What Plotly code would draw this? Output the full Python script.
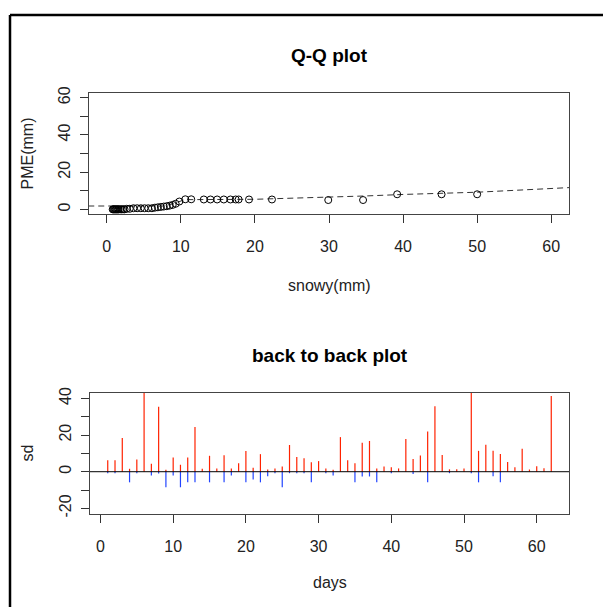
import plotly.graph_objects as go

W, H = 603, 607

# ---------------- data ----------------
# Q-Q plot quantiles (sorted)
snowy_q = [0.8, 0.9, 1.0, 1.1, 1.2, 1.3, 1.4, 1.5, 1.6, 1.8, 2.0, 2.2, 2.4,
           2.7, 3.1, 3.6, 4.1, 4.6, 5.1, 5.6, 6.1,
           6.5, 6.9, 7.3, 7.7, 8.1, 8.5, 8.9, 9.3, 9.8,
           10.6, 11.4, 13.1, 14.0, 14.9, 15.8, 16.7, 17.4, 17.8, 19.2, 22.3,
           29.9, 34.6, 39.2, 45.2, 50.0]
pme_q = [0, 0, 0, 0, 0, 0, 0, 0, 0, 0, 0, 0, 0,
         0.3, 0.3, 0.6, 0.6, 0.6, 0.6, 0.6, 0.6,
         0.9, 1.1, 1.3, 1.5, 1.7, 2.0, 2.4, 3.0, 4.2,
         5.4, 5.4, 5.3, 5.3, 5.3, 5.3, 5.3, 5.3, 5.3, 5.3, 5.3,
         5.0, 5.0, 8.1, 8.1, 8.1]
# dashed reference line
ref_x = [-2.5, 7.5, 9.0, 10.5, 20, 25, 30, 35, 40, 45, 50, 55, 60, 62.5]
ref_y = [1.8, 1.8, 3.0, 5.2, 5.4, 5.9, 6.4, 7.2, 8.0, 8.4, 9.2, 10.2, 11.1, 11.7]

# back to back plot
days = list(range(1, 63))
sd_pos = [6.2, 6.2, 18.4, 1.6, 6.7, 48.0, 4.4, 35.5, 1.1, 7.8,
          3.8, 7.8, 24.4, 1.6, 8.7, 1.8, 9.0, 1.8, 4.6, 11.3,
          2.2, 9.6, 1.2, 1.8, 2.9, 14.6, 8.0, 7.4, 5.2, 5.8,
          1.8, 1.1, 18.9, 6.2, 4.6, 15.8, 16.8, 1.8, 2.9, 2.4,
          1.8, 17.9, 6.9, 8.9, 21.9, 35.7, 9.1, 1.3, 1.3, 1.8,
          48.0, 11.4, 14.7, 11.4, 9.7, 5.3, 2.4, 12.5, 1.2, 3.0,
          1.9, 41.3]
sd_neg = [-0.8, -0.8, 0, -5.8, -0.8, 0, -2.0, -1.0, -8.5, -2.0,
          -8.5, -5.8, -5.8, 0, -5.8, 0, -5.8, -2.0, 0, -5.8,
          -4.2, -5.8, -2.5, -0.8, -8.5, -0.8, -0.8, -0.8, -5.8, 0,
          -0.8, -2.0, 0, 0, -5.8, -2.6, -2.6, -5.8, 0, -0.8,
          0, 0, -1.2, 0, -5.8, 0, 0, -0.8, 0, 0,
          -0.8, -5.8, 0, -2.5, -5.8, 0, 0, 0, 0, 0,
          0, 0]

top_ticks = [0, 10, 20, 30, 40, 50, 60]
top_ylab = ["0", "", "20", "", "40", "", "60"]
bot_yticks = [-20, -10, 0, 10, 20, 30, 40]
bot_ylab = ["-20", "", "0", "", "20", "", "40"]
x_ticks = [0, 10, 20, 30, 40, 50, 60]


def segs(xs, ys):
    sx, sy = [], []
    for a, b in zip(xs, ys):
        if b == 0:
            continue
        sx += [a, a, None]
        sy += [0, b, None]
    return sx, sy


px, py = segs(days, sd_pos)
nx, ny = segs(days, sd_neg)

fig = go.Figure()
fig.add_trace(go.Scatter(x=ref_x, y=ref_y, mode="lines",
                         line=dict(color="#333333", width=1, dash="6px,4px"),
                         xaxis="x", yaxis="y", showlegend=False, hoverinfo="skip"))
fig.add_trace(go.Scatter(x=snowy_q, y=pme_q, mode="markers",
                         marker=dict(symbol="circle-open", size=7, color="black",
                                     line=dict(width=1, color="black")),
                         xaxis="x", yaxis="y", showlegend=False))
fig.add_trace(go.Scatter(x=px, y=py, mode="lines",
                         line=dict(color="#ff2200", width=1.2),
                         xaxis="x2", yaxis="y2", showlegend=False))
fig.add_trace(go.Scatter(x=nx, y=ny, mode="lines",
                         line=dict(color="#2244ff", width=1.2),
                         xaxis="x2", yaxis="y2", showlegend=False))


def px2x(p):
    return p / W


def px2y(p):
    return 1 - p / H


tickfont = dict(family="Liberation Sans, Arial", size=16, color="#222222")
axcommon = dict(showline=True, mirror=True, linecolor="#444444", linewidth=1,
                ticks="outside", ticklen=8, tickcolor="#333333", tickwidth=1,
                showgrid=False, zeroline=False, tickfont=tickfont, fixedrange=True,
                automargin=False)

fig.update_layout(
    width=W, height=H,
    margin=dict(l=0, r=0, t=0, b=0, pad=0),
    paper_bgcolor="white", plot_bgcolor="white",
    xaxis=dict(domain=[px2x(89), px2x(569)], range=[-2.4, 62.4],
               tickvals=x_ticks, anchor="y", ticklabelstandoff=10, **axcommon),
    yaxis=dict(domain=[px2y(214), px2y(93)], range=[-2.5, 62.5],
               tickvals=top_ticks, ticktext=top_ylab, tickangle=-90,
               anchor="x", ticklabelstandoff=4, **axcommon),
    xaxis2=dict(domain=[px2x(90), px2x(569)], range=[-1.44, 64.44],
                tickvals=x_ticks, anchor="y2", ticklabelstandoff=10, **axcommon),
    yaxis2=dict(domain=[px2y(514), px2y(393)], range=[-23.1, 43.0],
                tickvals=bot_yticks, ticktext=bot_ylab, tickangle=-90,
                anchor="x2", ticklabelstandoff=4, **axcommon),
)

fig.add_shape(type="line", xref="x2 domain", yref="y2", x0=0, x1=1, y0=0, y1=0,
              line=dict(color="black", width=1))
# outer frame (left and top edges visible)
fig.add_shape(type="line", xref="paper", yref="paper",
              x0=px2x(10), x1=px2x(10), y0=0, y1=px2y(15),
              line=dict(color="black", width=2.5))
fig.add_shape(type="line", xref="paper", yref="paper",
              x0=px2x(10), x1=1, y0=px2y(15), y1=px2y(15),
              line=dict(color="black", width=2.5))

lab = dict(family="Liberation Sans, Arial", size=16, color="#222222")
titlef = dict(family="Liberation Sans, Arial", size=19, color="black")
ann = [
    dict(text="<b>Q-Q plot</b>", x=px2x(329), y=px2y(55), font=titlef),
    dict(text="<b>back to back plot</b>", x=px2x(329.5), y=px2y(355), font=titlef),
    dict(text="snowy(mm)", x=px2x(329), y=px2y(285), font=lab),
    dict(text="days", x=px2x(329.5), y=px2y(582), font=lab),
    dict(text="PME(mm)", x=px2x(27), y=px2y(153.5), font=lab, textangle=-90),
    dict(text="sd", x=px2x(27), y=px2y(453.5), font=lab, textangle=-90),
]
for a in ann:
    fig.add_annotation(xref="paper", yref="paper", showarrow=False,
                       xanchor="center", yanchor="middle", **a)

fig.write_html("out.html",
               config={"displayModeBar": False},
               post_script="document.body.style.margin='0';"
                           "document.body.style.overflow='hidden';")
